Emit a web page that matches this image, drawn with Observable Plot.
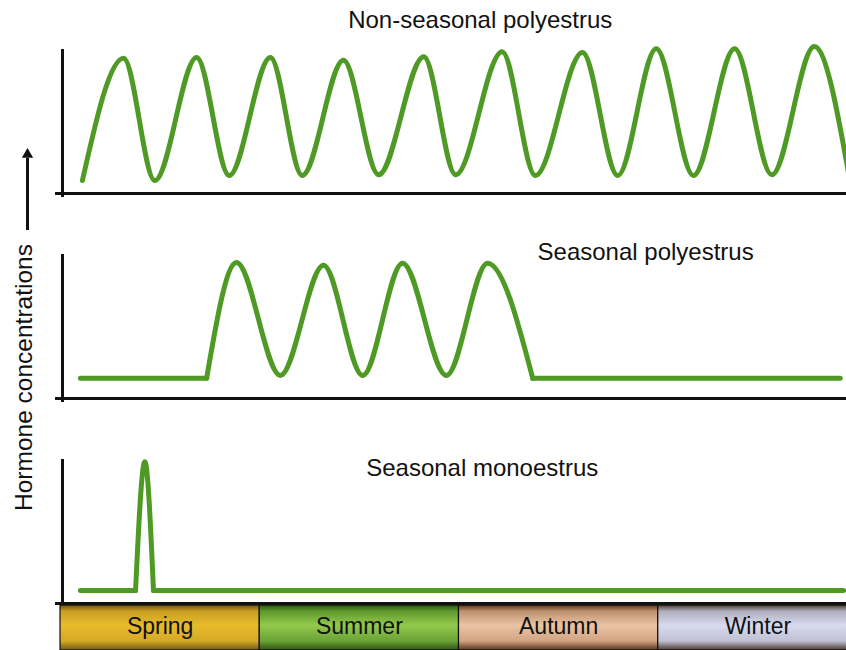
<!DOCTYPE html>
<html>
<head>
<meta charset="utf-8">
<script src="https://cdn.jsdelivr.net/npm/d3@7"></script>
<script src="https://cdn.jsdelivr.net/npm/@observablehq/plot@0.6"></script>
<style>
  html, body { margin: 0; padding: 0; background: #fff; overflow: hidden; }
  #chart svg { display: block; max-width: none; }
</style>
</head>
<body>
<div id="chart"></div>
<script>
// ---------- data ----------
const panels = ["Non-seasonal polyestrus", "Seasonal polyestrus", "Seasonal monoestrus"];
const yLabel = "Hormone concentrations";

// x in months from the start of spring (0..12), y = relative hormone level (0..100)
const nonSeasonalMonth = [[0.33, 0.95, 1.42, 2.05, 2.54, 3.16, 3.64, 4.26, 4.79, 5.47, 5.95, 6.65, 7.15, 7.86, 8.39, 8.97, 9.53, 10.15, 10.71, 11.35, 11.87]];
const nonSeasonalLevel = [[9, 94, 9, 94.5, 12.5, 94.5, 12.5, 92.5, 13, 95, 13, 98.5, 12.5, 98, 12.5, 100.5, 12.5, 100.5, 13, 102, 13]];

const seasonalPolyMonth = [[0.30, 2.20], [2.20, 2.65, 3.31, 3.96, 4.55, 5.15, 5.81, 6.43, 7.11], [7.11, 11.74]];
const seasonalPolyLevel = [[14, 14], [14, 94.5, 16, 92.5, 16, 94, 16, 94, 14], [14, 14]];

const monoMonth = [[0.30, 1.13], [1.13, 1.27, 1.40], [1.40, 11.79]];
const monoLevel = [[9, 9], [9, 98.5, 9], [9, 9]];

const seasons = ["Spring", "Summer", "Autumn", "Winter"];
const seasonStart = [0, 3, 6, 9];
const seasonEnd = [3, 6, 9, 12];

// ---------- build table ----------
const rows = [];
[[nonSeasonalMonth, nonSeasonalLevel], [seasonalPolyMonth, seasonalPolyLevel], [monoMonth, monoLevel]]
  .forEach(([M, L], p) => M.forEach((seg, s) => seg.forEach((m, k) =>
    rows.push({panel: panels[p], seg: `${p}-${s}`, month: m, level: L[s][k]}))));

const seasonRows = seasons.map((s, i) => ({season: s, start: seasonStart[i], end: seasonEnd[i]}));

// ---------- styles ----------
const FONT = "'Liberation Sans', Arial, Helvetica, sans-serif";
const GREEN = "#4f9a24";
const INK = "#111";
const titleX = [6.32, 8.81, 6.35];
const titleY = [114.6, 96.5, 88.2];

const panelChart = Plot.plot({
  width: 857,
  height: 605,
  marginTop: 48, marginBottom: 2, marginLeft: 60, marginRight: 0,
  facet: {marginTop: 48, marginBottom: 2, marginLeft: 60, marginRight: 0},
  x: {domain: [0, 12], axis: null},
  y: {domain: [0, 100], axis: null},
  fy: {domain: panels, axis: null, paddingInner: 0.2993, paddingOuter: 0, label: null},
  style: {background: "#fff", fontFamily: FONT},
  marks: [
    // axes
    Plot.ruleY(panels, {fy: d => d, y: () => 0, stroke: INK, strokeWidth: 3, insetLeft: -5}),
    Plot.ruleX(panels, {fy: d => d, x: () => 0, dx: 2, stroke: INK, strokeWidth: 3, insetBottom: -4}),
    // hormone curves
    Plot.line(rows, {x: "month", y: "level", z: "seg", fy: "panel", curve: "monotone-x",
      stroke: GREEN, strokeWidth: 5}),
    // panel titles
    Plot.text(panels, {fy: d => d, x: (d, i) => titleX[i], y: (d, i) => titleY[i], text: d => d,
      lineAnchor: "bottom", textAnchor: "middle", fontSize: 24, fontFamily: FONT, fill: INK}),
    // y label + arrow
    Plot.text([yLabel], {fy: () => panels[1], text: d => d, frameAnchor: "left", rotate: -90,
      textAnchor: "middle", lineAnchor: "middle",
      dx: -36, dy: 51, fontSize: 24.5, fontFamily: FONT, fill: INK}),
    Plot.ruleX([panels[0]], {fy: d => d, x: () => 0, dx: -33, insetTop: 109, insetBottom: -37,
      stroke: INK, strokeWidth: 3}),
    Plot.dot([panels[0]], {fy: d => d, frameAnchor: "top-left", dx: -33, dy: 105,
      symbol: "triangle", r: 4.2, fill: INK, stroke: "none"})
  ]
});

const gradients = [
  [[0, "#6e5410"], [0.14, "#c99f22"], [0.45, "#e8bb2c"], [0.8, "#d6a926"], [1, "#735812"]],
  [[0, "#2c5612"], [0.14, "#5f9a2e"], [0.45, "#93c94c"], [0.8, "#6aa336"], [1, "#2c5212"]],
  [[0, "#5a361c"], [0.14, "#bf916e"], [0.45, "#eac4a4"], [0.8, "#d2a482"], [1, "#56321a"]],
  [[0, "#4e3e34"], [0.14, "#aeadbd"], [0.45, "#d8dbef"], [0.8, "#c0c0d2"], [1, "#4c3a2e"]]
];

const seasonChart = Plot.plot({
  width: 857,
  height: 45,
  marginTop: 0, marginBottom: 0, marginLeft: 60, marginRight: 0,
  x: {domain: [0, 12], axis: null},
  y: {axis: null},
  style: {background: "#fff", fontFamily: FONT},
  marks: [
    ...seasonRows.map((r, i) => Plot.rect([r], {x1: "start", x2: "end",
      fill: `url(#seasonGrad${i})`, stroke: INK, strokeWidth: 1.2})),
    Plot.text(seasonRows, {x: d => (d.start + d.end) / 2, text: "season", frameAnchor: "middle",
      dy: -1, fontSize: 23, fontFamily: FONT, fill: INK})
  ]
});

const defs = d3.select(seasonChart).insert("defs", ":first-child");
gradients.forEach((stops, i) => {
  const g = defs.append("linearGradient").attr("id", `seasonGrad${i}`)
    .attr("x1", 0).attr("y1", 0).attr("x2", 0).attr("y2", 1);
  stops.forEach(([o, c]) => g.append("stop").attr("offset", o).attr("stop-color", c));
});

const chart = document.getElementById("chart");
chart.appendChild(panelChart);
chart.appendChild(seasonChart);
</script>
</body>
</html>
